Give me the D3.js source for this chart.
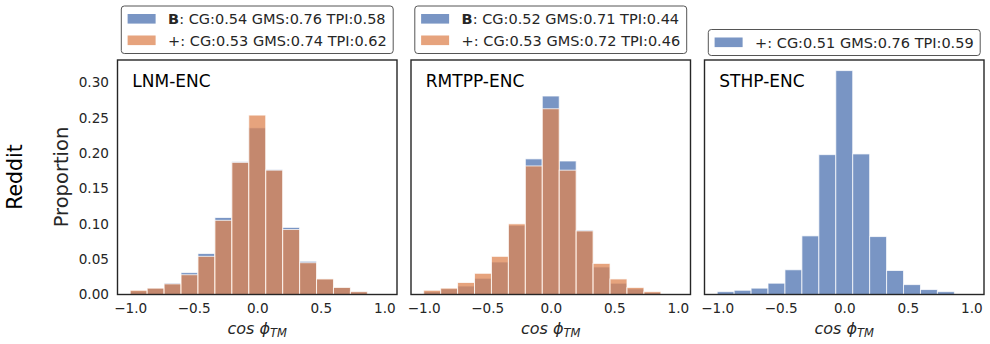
<!DOCTYPE html>
<html>
<head>
<meta charset="utf-8">
<script src="https://cdn.jsdelivr.net/npm/d3@7"></script>
<style>
	body { margin: 0; background: #fff; }
	svg { display: block; font-family: "DejaVu Sans", sans-serif; }
</style>
</head>
<body>
<svg width="990" height="344"></svg>
<script>
"use strict";

// bin left edges, 15 bins of width 2/15 over [-1, 1]
var binWidth = 2 / 15;
var binEdges = d3.range(15).map(function(i) { return -1 + i * binWidth; });

var lnmB     = [0.005, 0.009, 0.016, 0.031, 0.058, 0.109, 0.188, 0.236, 0.177, 0.095, 0.047, 0.022, 0.010, 0.004, 0.000];
var lnmPlus  = [0.006, 0.009, 0.015, 0.028, 0.054, 0.105, 0.187, 0.254, 0.176, 0.092, 0.045, 0.022, 0.010, 0.004, 0.000];
var rmtppB    = [0.004, 0.008, 0.012, 0.023, 0.046, 0.098, 0.192, 0.281, 0.189, 0.091, 0.039, 0.016, 0.008, 0.003, 0.000];
var rmtppPlus = [0.006, 0.009, 0.017, 0.030, 0.054, 0.100, 0.182, 0.263, 0.176, 0.090, 0.044, 0.022, 0.010, 0.004, 0.000];
var sthpPlus = [0.004, 0.006, 0.009, 0.016, 0.035, 0.083, 0.198, 0.317, 0.199, 0.082, 0.034, 0.014, 0.007, 0.004, 0.000];

var panelTitles = ["LNM-ENC", "RMTPP-ENC", "STHP-ENC"];
var legendB    = ["CG:0.54 GMS:0.76 TPI:0.58", "CG:0.52 GMS:0.71 TPI:0.44", null];
var legendPlus = ["CG:0.53 GMS:0.74 TPI:0.62", "CG:0.53 GMS:0.72 TPI:0.46", "CG:0.51 GMS:0.76 TPI:0.59"];

var xTicks = [-1, -0.5, 0, 0.5, 1];
var yTicks = [0, 0.05, 0.10, 0.15, 0.20, 0.25, 0.30];

var blue = "#4c72b0", orange = "#dd8452", ink = "#262626";

var panels = [
	{title: panelTitles[0], series: [lnmB, lnmPlus], colors: [blue, orange], labels: [["B", legendB[0]], ["+", legendPlus[0]]]},
	{title: panelTitles[1], series: [rmtppB, rmtppPlus], colors: [blue, orange], labels: [["B", legendB[1]], ["+", legendPlus[1]]]},
	{title: panelTitles[2], series: [sthpPlus], colors: [blue], labels: [["+", legendPlus[2]]]}
];

var svg = d3.select("svg");
var axLeft = [117.5, 411, 704.5];
var axW = 279.5, axTop = 60, axBottom = 294.5;
var legendBottom = [53.5, 53.5, 55.5];

var y = d3.scaleLinear().domain([0, 0.332]).range([axBottom, axTop]);

panels.forEach(function(p, pi) {
	var x = d3.scaleLinear().domain([-1.1, 1.1]).range([axLeft[pi], axLeft[pi] + axW]);
	var g = svg.append("g");

	p.series.forEach(function(vals, si) {
		g.append("g").selectAll("rect").data(vals).enter().append("rect")
			.attr("x", function(d, i) { return x(binEdges[i]); })
			.attr("width", function(d, i) { return x(binEdges[i] + binWidth) - x(binEdges[i]); })
			.attr("y", function(d) { return y(d); })
			.attr("height", function(d) { return y(0) - y(d); })
			.attr("fill", p.colors[si])
			.attr("fill-opacity", 0.75)
			.attr("stroke", "#fff")
			.attr("stroke-opacity", 0.75)
			.attr("stroke-width", 1);
	});

	g.append("rect")
		.attr("x", axLeft[pi]).attr("y", axTop)
		.attr("width", axW).attr("height", axBottom - axTop)
		.attr("fill", "none").attr("stroke", ink).attr("stroke-width", 1.4);

	g.append("text")
		.attr("x", axLeft[pi] + 14.8).attr("y", 86.5)
		.attr("font-size", 17).attr("fill", "#000")
		.text(p.title);

	var xa = g.append("g")
		.attr("transform", "translate(0," + axBottom + ")")
		.call(d3.axisBottom(x).tickValues(xTicks).tickSize(0).tickPadding(9.3).tickFormat(d3.format(".1f")));
	xa.select(".domain").remove();
	xa.selectAll("text").attr("font-size", 13.6).attr("font-family", "DejaVu Sans").attr("fill", ink);

	var xl = g.append("text")
		.attr("x", axLeft[pi] + axW / 2).attr("y", 333.5)
		.attr("text-anchor", "middle").attr("font-size", 16).attr("font-style", "italic").attr("fill", ink);
	xl.append("tspan").text("cos \u03d5");
	xl.append("tspan").attr("font-size", 11.5).attr("dy", 3).text("TM");

	if (pi === 0) {
		var ya = g.append("g")
			.attr("transform", "translate(" + axLeft[pi] + ",0)")
			.call(d3.axisLeft(y).tickValues(yTicks).tickSize(0).tickPadding(8.5).tickFormat(d3.format(".2f")));
		ya.select(".domain").remove();
		ya.selectAll("text").attr("font-size", 13.6).attr("font-family", "DejaVu Sans").attr("fill", ink);
	}

	// legend above each panel
	var lg = g.append("g");
	var rowH = 21.5, n = p.labels.length;
	var top = legendBottom[pi] - n * rowH - 4.5;
	var box = lg.append("rect");
	var maxLen = 0;
	p.labels.forEach(function(lab, li) {
		var cy = top + 12.8 + li * rowH;
		lg.append("rect")
			.attr("x", 0).attr("y", cy - 4.8).attr("width", 28).attr("height", 9.6)
			.attr("fill", p.colors[p.colors.length === 1 ? 0 : li]).attr("fill-opacity", 0.75);
		var t = lg.append("text").attr("x", 40.5).attr("y", cy + 5.2)
			.attr("font-size", 14.5).attr("fill", ink);
		t.append("tspan").attr("font-weight", lab[0] === "B" ? "bold" : "normal").text(lab[0]);
		t.append("tspan").text(": " + lab[1]);
		maxLen = Math.max(maxLen, t.node().getComputedTextLength());
	});
	var boxW = 6.3 + 40.5 + maxLen + 6.5;
	box.attr("x", -6.3).attr("y", top).attr("width", boxW).attr("height", legendBottom[pi] - top)
		.attr("rx", 3).attr("fill", "#fff").attr("stroke", "#555").attr("stroke-width", 1);
	var cx = axLeft[pi] + axW / 2;
	lg.attr("transform", "translate(" + (cx - boxW / 2 + 6.3) + ",0)");
});

svg.append("text")
	.attr("transform", "translate(67.5,177) rotate(-90)")
	.attr("text-anchor", "middle").attr("font-size", 19.5).attr("fill", ink)
	.text("Proportion");

svg.append("text")
	.attr("transform", "translate(22,177) rotate(-90)")
	.attr("text-anchor", "middle").attr("font-size", 20.5).attr("fill", "#000")
	.text("Reddit");
</script>
</body>
</html>
